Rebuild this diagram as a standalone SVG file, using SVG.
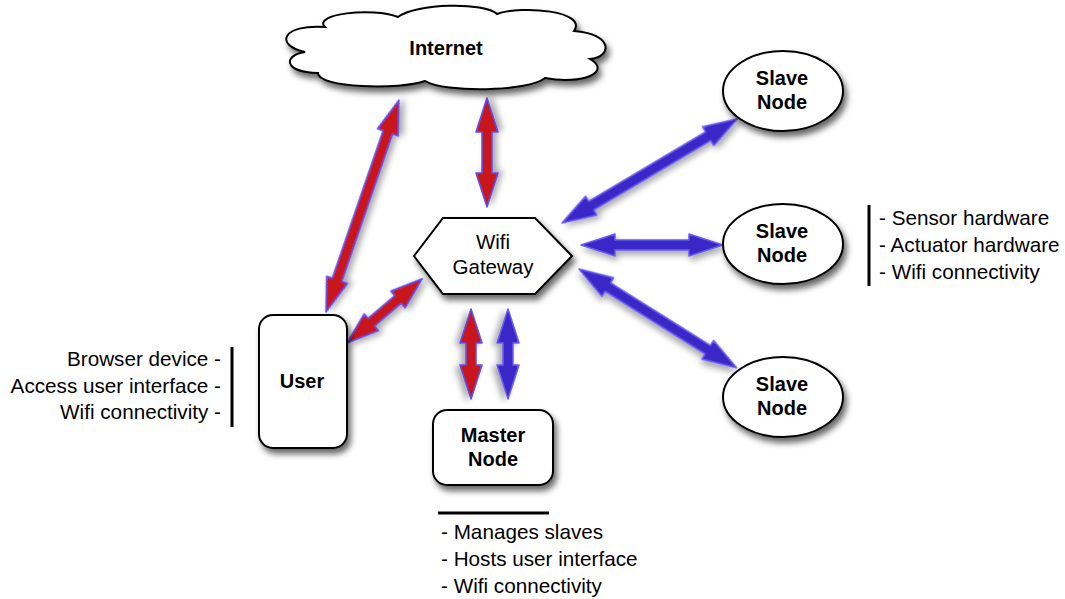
<svg xmlns="http://www.w3.org/2000/svg" width="1065" height="599" viewBox="0 0 1065 599">
  <defs>
    <filter id="shadow" x="-20%" y="-20%" width="150%" height="160%">
      <feDropShadow dx="3" dy="5" stdDeviation="3" flood-color="#000" flood-opacity="0.6"/>
    </filter>
    <filter id="arrowShadow" x="-20%" y="-20%" width="150%" height="160%">
      <feDropShadow dx="2" dy="4" stdDeviation="3" flood-color="#000" flood-opacity="0.35"/>
    </filter>
  </defs>
  <style>
    .node { fill: #ffffff; stroke: #000000; stroke-width: 2; filter: url(#shadow); }
    .bold { font-family: "Liberation Sans", Arial, sans-serif; font-size: 20px; font-weight: bold; fill: #000; text-anchor: middle; }
    .label { font-family: "Liberation Sans", Arial, sans-serif; font-size: 20.5px; fill: #000; text-anchor: middle; }
    .note { font-family: "Liberation Sans", Arial, sans-serif; font-size: 20.7px; fill: #000; }
    .bar { stroke: #000; stroke-width: 3; }
    .red { fill: #c8191a; stroke: #5b4ff5; stroke-width: 1.5; stroke-linejoin: round; filter: url(#arrowShadow); }
    .blue { fill: #3b28c8; stroke: #6a5cf2; stroke-width: 1.5; stroke-linejoin: round; filter: url(#arrowShadow); }
  </style>

  <rect width="1065" height="599" fill="#ffffff"/>

  <!-- connectors: fat double-headed arrows -->
  <g id="connectors">
    <!-- user <-> internet -->
    <path class="red" transform="translate(326,312) rotate(-71)" d="M0,0 L34,-11 L34,-5 L190,-5 L190,-11 L224,0 L190,11 L190,5 L34,5 L34,11 Z"/>
    <!-- gateway <-> internet -->
    <path class="red" transform="translate(487,207) rotate(-90)" d="M0,0 L34,-11 L34,-5 L75,-5 L75,-11 L109,0 L75,11 L75,5 L34,5 L34,11 Z"/>
    <!-- user <-> gateway -->
    <path class="red" transform="translate(347,343) rotate(-40.5)" d="M0,0 L32,-11 L32,-5 L67,-5 L67,-11 L99,0 L67,11 L67,5 L32,5 L32,11 Z"/>
    <!-- gateway <-> master -->
    <path class="red" transform="translate(471,309) rotate(90)" d="M0,0 L34,-11 L34,-5 L56,-5 L56,-11 L90,0 L56,11 L56,5 L34,5 L34,11 Z"/>
    <path class="blue" transform="translate(508,309) rotate(90)" d="M0,0 L34,-11 L34,-5 L56,-5 L56,-11 L90,0 L56,11 L56,5 L34,5 L34,11 Z"/>
    <!-- gateway <-> slaves -->
    <path class="blue" transform="translate(562,223) rotate(-30.7)" d="M0,0 L34,-11 L34,-5 L170,-5 L170,-11 L204,0 L170,11 L170,5 L34,5 L34,11 Z"/>
    <path class="blue" transform="translate(581,245)" d="M0,0 L34,-11 L34,-5 L108,-5 L108,-11 L142,0 L108,11 L108,5 L34,5 L34,11 Z"/>
    <path class="blue" transform="translate(579,269) rotate(32.1)" d="M0,0 L34,-11 L34,-5 L152,-5 L152,-11 L186,0 L152,11 L152,5 L34,5 L34,11 Z"/>
  </g>

  <g id="internet">
    <path class="node" d="M325,27 C312,14 372,7 398,17 C416,3 485,2 497,14 C522,5 588,11 574,31 C614,34 612,57 590,59 C612,72 583,85 545,78 C528,92 445,93 425,81 C400,90 318,88 318,73 C282,72 284,55 305,52 C274,45 282,24 325,27 Z"/>
    <text class="bold" x="446" y="55">Internet</text>
  </g>

  <g id="gateway">
    <polygon class="node" points="414,256 443,218 535,218 572,256 535,294 443,294"/>
    <text class="label" x="493" y="249">Wifi</text>
    <text class="label" x="493" y="274">Gateway</text>
  </g>

  <g id="user">
    <rect class="node" x="259" y="315" width="88" height="133" rx="14"/>
    <text class="bold" x="302" y="388">User</text>
  </g>

  <g id="master">
    <rect class="node" x="433" y="410" width="120" height="75" rx="14"/>
    <text class="bold" x="493" y="442">Master</text>
    <text class="bold" x="493" y="466">Node</text>
  </g>

  <g id="slave1">
    <ellipse class="node" cx="783" cy="91" rx="60" ry="40"/>
    <text class="bold" x="782" y="85">Slave</text>
    <text class="bold" x="782" y="109">Node</text>
  </g>

  <g id="slave2">
    <ellipse class="node" cx="783" cy="244" rx="60" ry="40"/>
    <text class="bold" x="782" y="238">Slave</text>
    <text class="bold" x="782" y="262">Node</text>
  </g>

  <g id="slave3">
    <ellipse class="node" cx="783" cy="397" rx="60" ry="40"/>
    <text class="bold" x="782" y="391">Slave</text>
    <text class="bold" x="782" y="415">Node</text>
  </g>

  <!-- annotation lists -->
  <g id="slave-notes">
    <line class="bar" x1="869" y1="205" x2="869" y2="286"/>
    <text class="note" x="879" y="225">- Sensor hardware</text>
    <text class="note" x="879" y="252">- Actuator hardware</text>
    <text class="note" x="879" y="279">- Wifi connectivity</text>
  </g>

  <g id="user-notes">
    <line class="bar" x1="232" y1="347" x2="232" y2="427"/>
    <text class="note" x="221" y="366" text-anchor="end">Browser device -</text>
    <text class="note" x="221" y="393" text-anchor="end">Access user interface -</text>
    <text class="note" x="221" y="419" text-anchor="end">Wifi connectivity -</text>
  </g>

  <g id="master-notes">
    <line class="bar" x1="438" y1="513" x2="549" y2="513"/>
    <text class="note" x="441" y="539">- Manages slaves</text>
    <text class="note" x="441" y="566">- Hosts user interface</text>
    <text class="note" x="441" y="593">- Wifi connectivity</text>
  </g>
</svg>
